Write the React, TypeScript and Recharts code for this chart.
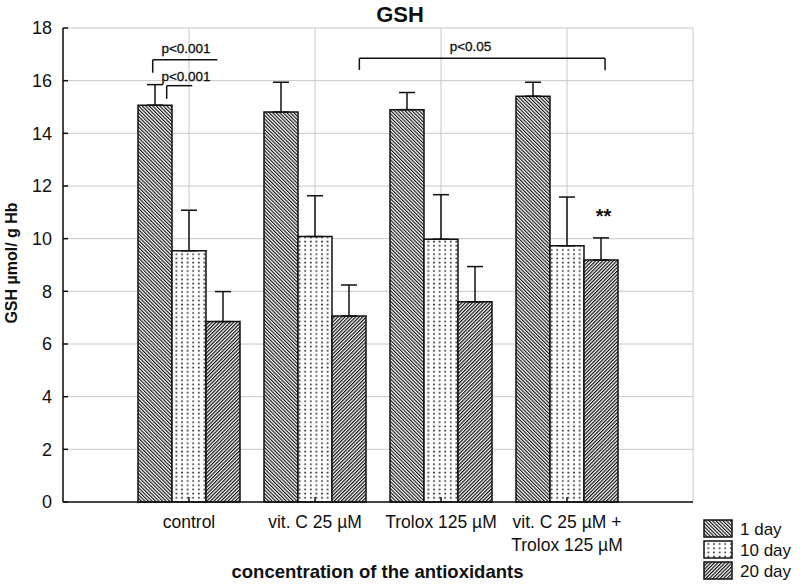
import React from 'react';
import {
  BarChart,
  Bar,
  XAxis,
  YAxis,
  CartesianGrid,
  ErrorBar,
  ReferenceLine,
  ReferenceDot,
} from 'recharts';

// ---------- data ----------
const categories = ['control', 'vit. C 25 µM', 'Trolox 125 µM', 'vit. C 25 µM +\nTrolox 125 µM'];
const positions = [1, 2, 3, 4];
const seriesNames = ['1 day', '10 day', '20 day'];
const day1 = [15.07, 14.81, 14.9, 15.41];
const day1Err = [0.78, 1.13, 0.65, 0.53];
const day10 = [9.54, 10.08, 9.98, 9.73];
const day10Err = [1.54, 1.55, 1.69, 1.85];
const day20 = [6.85, 7.06, 7.6, 9.19];
const day20Err = [1.14, 1.18, 1.34, 0.84];
const yTicks = [0, 2, 4, 6, 8, 10, 12, 14, 16, 18];

// significance annotations (x in category units 0..5, y in data units)
const brackets = [
  { x1: 0.712, x2: 1.225, y: 16.79, legL: 16.3, legR: null as number | null },
  { x1: 0.823, x2: 1.026, y: 15.81, legL: 15.31, legR: null as number | null },
  { x1: 2.352, x2: 4.302, y: 16.85, legL: 16.41, legR: 16.4 },
];
const notes = [
  { x: 0.976, y: 17.24, text: 'p<0.001', size: 13.5, bold: false },
  { x: 0.976, y: 16.18, text: 'p<0.001', size: 13.5, bold: false },
  { x: 3.234, y: 17.32, text: 'p<0.05', size: 13.5, bold: false },
  { x: 4.29, y: 10.86, text: '**', size: 20, bold: true },
];

const data = categories.map((name, i) => ({
  name,
  pos: positions[i],
  d1: day1[i],
  d1e: [0, day1Err[i]],
  d10: day10[i],
  d10e: [0, day10Err[i]],
  d20: day20[i],
  d20e: [0, day20Err[i]],
}));

const FONT = '"Liberation Sans", Arial, Helvetica, sans-serif';
const fills = ['url(#pat1)', 'url(#pat10)', 'url(#pat20)'];

const CatTick = (props: any) => {
  const { x, y, payload } = props;
  const lines = String(payload.value).split('\n');
  return (
    <text x={x} y={y} textAnchor="middle" fontSize={17.5} fontFamily={FONT} fill="#111">
      {lines.map((l, i) => (
        <tspan key={i} x={x} dy={i === 0 ? 17 : 23}>
          {l}
        </tspan>
      ))}
    </text>
  );
};

const makeNoteLabel = (text: string, size: number, bold: boolean) => (p: any) => {
  const vb = p.viewBox || {};
  const cx = (vb.x || 0) + (vb.width || 0) / 2;
  const cy = (vb.y || 0) + (vb.height || 0) / 2;
  return (
    <text
      x={cx}
      y={cy}
      dy={size * 0.36}
      textAnchor="middle"
      fontSize={size}
      fontWeight={bold ? 'bold' : 'normal'}
      fontFamily={FONT}
      fill="#111"
      stroke={bold ? 'none' : '#111'}
      strokeWidth={bold ? 0 : 0.3}
    >
      {text}
    </text>
  );
};

export default function App() {
  return (
    <div style={{ position: 'absolute', left: 0, top: 0, width: 800, height: 585, background: '#fff' }}>
      <svg width={0} height={0} style={{ position: 'absolute' }}>
        <defs>
          <pattern id="pat1" patternUnits="userSpaceOnUse" width={2.5} height={10} patternTransform="rotate(-45)">
            <rect x={0} y={0} width={2.5} height={10} fill="#fff" />
            <line x1={0.6} y1={0} x2={0.6} y2={10} stroke="#111" strokeWidth={1.15} />
          </pattern>
          <pattern id="pat20" patternUnits="userSpaceOnUse" width={2.5} height={10} patternTransform="rotate(45)">
            <rect x={0} y={0} width={2.5} height={10} fill="#fff" />
            <line x1={0.6} y1={0} x2={0.6} y2={10} stroke="#111" strokeWidth={1.25} />
          </pattern>
          <pattern id="pat10" patternUnits="userSpaceOnUse" width={5.6} height={4.2}>
            <rect x={0} y={0} width={5.6} height={4.2} fill="#fff" />
            <rect x={2} y={1.4} width={1.6} height={1.6} fill="#222" />
          </pattern>
        </defs>
      </svg>
      <BarChart
        width={800}
        height={585}
        data={data}
        margin={{ top: 28, right: 107, bottom: 53, left: 13 }}
        barGap={0}
        barSize={34}
      >
        <CartesianGrid stroke="#c8c8c8" strokeWidth={1} />
        <XAxis
          dataKey="name"
          type="category"
          padding={{ left: 63, right: 63 }}
          height={30}
          interval={0}
          tickSize={-5}
          tickMargin={14}
          tickLine={{ stroke: '#111', strokeWidth: 1.5 }}
          axisLine={{ stroke: '#111', strokeWidth: 1.5 }}
          tick={<CatTick />}
        />
        <XAxis
          xAxisId="top"
          orientation="top"
          dataKey="name"
          type="category"
          padding={{ left: 63, right: 63 }}
          height={0}
          interval={0}
          tickSize={-5}
          tick={false}
          tickLine={{ stroke: '#111', strokeWidth: 1.5 }}
          axisLine={{ stroke: '#111', strokeWidth: 1.5 }}
        />
        <XAxis xAxisId="num" dataKey="pos" type="number" domain={[0, 5]} hide allowDataOverflow />
        <YAxis
          domain={[0, 18]}
          ticks={yTicks}
          interval={0}
          width={50}
          tickSize={-5}
          tickMargin={16}
          tick={{ fontSize: 18, fontFamily: FONT, fill: '#111' }}
          tickLine={{ stroke: '#111', strokeWidth: 1.5 }}
          axisLine={{ stroke: '#111', strokeWidth: 1.5 }}
        />
        <YAxis
          yAxisId="right"
          orientation="right"
          domain={[0, 18]}
          ticks={yTicks}
          interval={0}
          width={0}
          tickSize={-5}
          tick={false}
          tickLine={{ stroke: '#111', strokeWidth: 1.5 }}
          axisLine={{ stroke: '#111', strokeWidth: 1.5 }}
        />
        <Bar dataKey="d1" name={seriesNames[0]} fill={fills[0]} stroke="#111" strokeWidth={1.5} isAnimationActive={false}>
          <ErrorBar dataKey="d1e" direction="y" width={8} stroke="#111" strokeWidth={1.5} />
        </Bar>
        <Bar dataKey="d10" name={seriesNames[1]} fill={fills[1]} stroke="#111" strokeWidth={1.5} isAnimationActive={false}>
          <ErrorBar dataKey="d10e" direction="y" width={8} stroke="#111" strokeWidth={1.5} />
        </Bar>
        <Bar dataKey="d20" name={seriesNames[2]} fill={fills[2]} stroke="#111" strokeWidth={1.5} isAnimationActive={false}>
          <ErrorBar dataKey="d20e" direction="y" width={8} stroke="#111" strokeWidth={1.5} />
        </Bar>
        {brackets.map((b, i) => (
          <ReferenceLine
            key={'h' + i}
            xAxisId="num"
            segment={[{ x: b.x1, y: b.y }, { x: b.x2, y: b.y }]}
            stroke="#111"
            strokeWidth={1.5}
          />
        ))}
        {brackets.map((b, i) => (
          <ReferenceLine
            key={'l' + i}
            xAxisId="num"
            segment={[{ x: b.x1, y: b.y }, { x: b.x1, y: b.legL }]}
            stroke="#111"
            strokeWidth={1.5}
          />
        ))}
        {brackets
          .filter((b) => b.legR !== null)
          .map((b, i) => (
            <ReferenceLine
              key={'r' + i}
              xAxisId="num"
              segment={[{ x: b.x2, y: b.y }, { x: b.x2, y: b.legR as number }]}
              stroke="#111"
              strokeWidth={1.5}
            />
          ))}
        {notes.map((n, i) => (
          <ReferenceDot
            key={'n' + i}
            xAxisId="num"
            x={n.x}
            y={n.y}
            r={0}
            fill="none"
            stroke="none"
            label={makeNoteLabel(n.text, n.size, n.bold)}
          />
        ))}
      </BarChart>
      <svg width={800} height={585} style={{ position: 'absolute', left: 0, top: 0, pointerEvents: 'none' }}>
        <text x={400} y={22} textAnchor="middle" fontSize={22} fontWeight="bold" fontFamily={FONT} fill="#111">
          GSH
        </text>
        <text
          x={16.5}
          y={263}
          transform="rotate(-90, 16.5, 263)"
          textAnchor="middle"
          fontSize={16}
          fontWeight="bold"
          fontFamily={FONT}
          fill="#111"
        >
          GSH µmol/ g Hb
        </text>
        <text x={377.5} y={578} textAnchor="middle" fontSize={18.5} fontWeight="bold" fontFamily={FONT} fill="#111">
          concentration of the antioxidants
        </text>
        {seriesNames.map((s, i) => (
          <g key={s}>
            <rect x={704} y={520 + i * 21} width={28} height={17} fill={fills[i]} stroke="#111" strokeWidth={1.5} />
            <text x={740} y={535 + i * 21} fontSize={17} fontFamily={FONT} fill="#111">
              {s}
            </text>
          </g>
        ))}
      </svg>
    </div>
  );
}
